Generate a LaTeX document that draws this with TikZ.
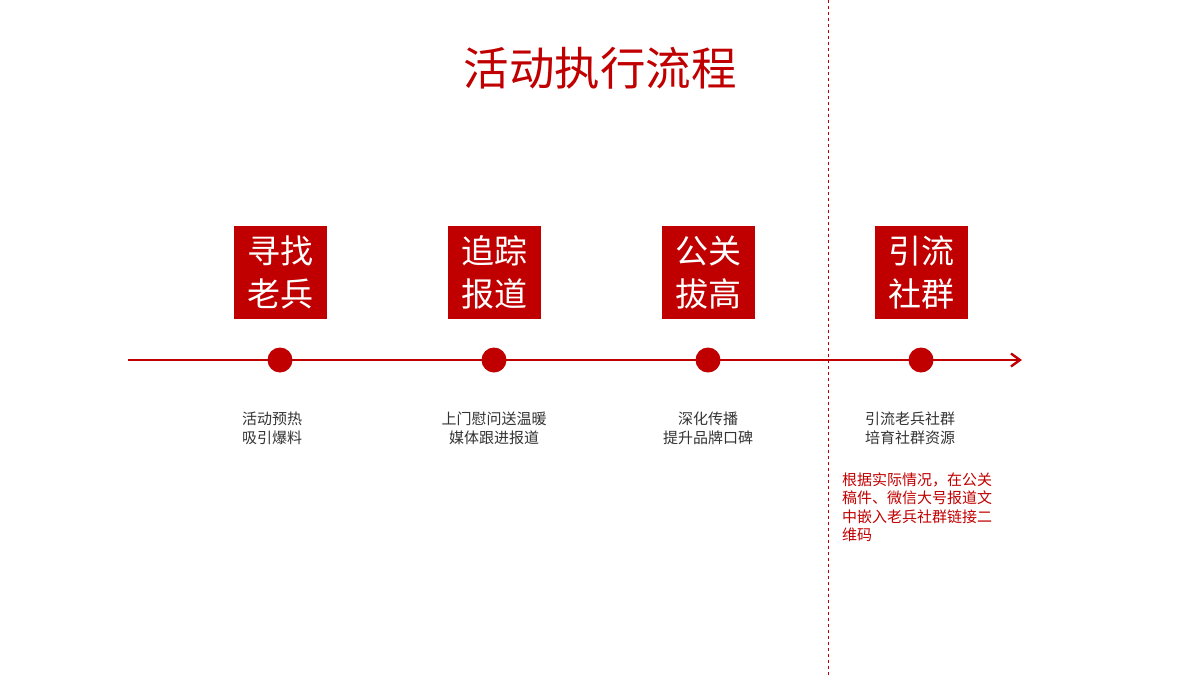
\documentclass[tikz,border=0pt]{standalone}
\usepackage{fontspec}
\setmainfont{Noto Sans CJK SC}
\usetikzlibrary{arrows.meta}
\definecolor{actred}{HTML}{C00000}
\tikzset{
  stagebox/.style = {rectangle, fill=actred, text=white, minimum size=93pt,
                     inner sep=0pt, align=center,
                     font=\fontsize{33}{43}\selectfont},
  dot/.style      = {circle, fill=actred, minimum size=25pt, inner sep=0pt},
  note/.style     = {align=center, text=black!80, font=\fontsize{15}{19}\selectfont},
  remark/.style   = {align=left, text=actred, anchor=north west,
                     font=\fontsize{15}{18.5}\selectfont}
}
\begin{document}
\begin{tikzpicture}[x=1pt,y=-1pt]
  \useasboundingbox (0,0) rectangle (1200,675);
  % title
  \node (title) [text=actred, font=\fontsize{45.5}{45.5}\selectfont] at (600,68) {活动执行流程};
  % separator
  \coordinate (septop) at (828,0);
  \coordinate (sepbot) at (828,675);
  \draw [actred, dashed, line width=0.8pt] (septop) -- (sepbot);
  % timeline
  \coordinate (start) at (128,360);
  \coordinate (end) at (1022,360);
  \draw [actred, line width=2.4pt, -{Straight Barb[length=9pt,width=13pt]}] (start) -- (end);
  % stages
  \foreach \x/\nx/\name/\title/\txt in {
      280/272/a/{寻找\\老兵}/{活动预热\\吸引爆料},
      494/494/b/{追踪\\报道}/{上门慰问送温暖\\媒体跟进报道},
      708/708/c/{公关\\拔高}/{深化传播\\提升品牌口碑},
      921/910/d/{引流\\社群}/{引流老兵社群\\培育社群资源}} {
    \node (box\name) [stagebox] at (\x,272.5) {\title};
    \node (dot\name) [dot] at (\x,360) {};
    \node (note\name) [note] at (\nx,428) {\txt};
  }
  \node (remarkd) [remark] at (838.5,469) {根据实际情况，在公关\\稿件、微信大号报道文\\中嵌入老兵社群链接二\\维码};
\end{tikzpicture}
\end{document}
